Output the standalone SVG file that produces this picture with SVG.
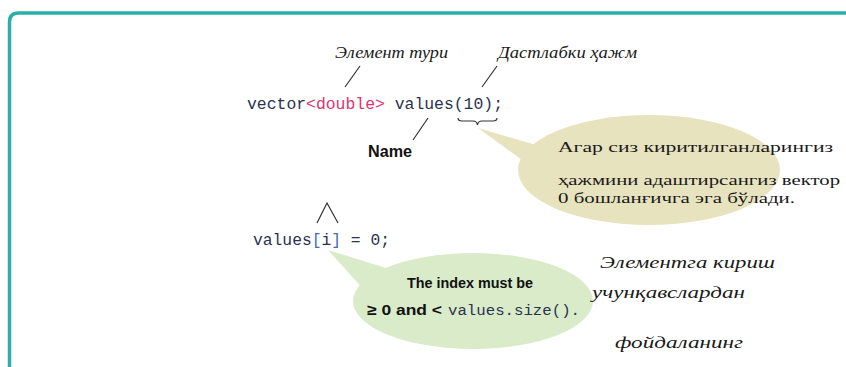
<svg xmlns="http://www.w3.org/2000/svg" width="846" height="367" viewBox="0 0 846 367">
<style>
.code{font-family:"Liberation Mono","DejaVu Sans Mono",monospace;font-size:16px;fill:#2a3250}
.red{fill:#e0336e}
.blue{fill:#3d6db3}
.it{font-family:"Liberation Serif","DejaVu Serif",serif;font-style:italic;font-size:16px;fill:#1a1a1a}
.ser{font-family:"Liberation Serif","DejaVu Serif",serif;font-size:14.5px;fill:#1a1a1a}
.bn{font-family:"Liberation Sans","DejaVu Sans",sans-serif;font-weight:bold;font-size:15px;fill:#111}
.ln{stroke:#333;stroke-width:1.2;fill:none}
</style>
<path d="M9.5,367 V22 Q9.5,13 18.5,13 H846" fill="none" stroke="#2aaea8" stroke-width="3.5"/>
<g id="tan-callout">
<polygon points="478,128 536,145 522,160" fill="#e8e3bf"/>
<ellipse cx="649" cy="170" rx="131" ry="55" fill="#e8e3bf"/>
<text class="ser" x="558" y="152" textLength="275" lengthAdjust="spacingAndGlyphs">Агар сиз киритилганларингиз</text>
<text class="ser" x="558" y="185" textLength="282" lengthAdjust="spacingAndGlyphs">ҳажмини адаштирсангиз вектор</text>
<text class="ser" x="558" y="203" textLength="237" lengthAdjust="spacingAndGlyphs">0 бошланғичга эга бўлади.</text>
</g>
<g id="green-callout">
<polygon points="328,250 386,268 366,292" fill="#d9ebc9"/>
<ellipse cx="473" cy="301" rx="120" ry="48" fill="#d9ebc9"/>
<text class="bn" x="407" y="288" textLength="126" lengthAdjust="spacingAndGlyphs">The index must be</text>
<text x="367" y="315"><tspan class="bn" textLength="75" lengthAdjust="spacingAndGlyphs">≥ 0 and &lt;</tspan></text>
<text class="code" x="448" y="315" style="font-size:15.5px" textLength="132" lengthAdjust="spacingAndGlyphs">values.size().</text>
</g>
<g id="declaration">
<text class="code" x="247" y="109" textLength="256" lengthAdjust="spacingAndGlyphs">vector<tspan class="red">&lt;double&gt;</tspan> values(10);</text>
</g>
<g id="access">
<text class="code" x="253" y="245" textLength="137" lengthAdjust="spacingAndGlyphs">values<tspan class="blue">[</tspan>i<tspan class="blue">]</tspan> = 0;</text>
</g>
<g id="label-type"><text class="it" x="335" y="58" textLength="113" lengthAdjust="spacingAndGlyphs">Элемент тури</text></g>
<g id="label-size"><text class="it" x="498" y="58" textLength="139" lengthAdjust="spacingAndGlyphs">Дастлабки ҳажм</text></g>
<g id="label-name"><text class="bn" x="368" y="157" style="font-size:16px" textLength="44" lengthAdjust="spacingAndGlyphs">Name</text></g>
<g id="label-access">
<text class="it" x="600" y="268" style="font-size:17px" textLength="175" lengthAdjust="spacingAndGlyphs">Элементга кириш</text>
<text class="it" x="592" y="298" style="font-size:17px" textLength="153" lengthAdjust="spacingAndGlyphs">учунқавслардан</text>
<text class="it" x="615" y="348" style="font-size:17px" textLength="128" lengthAdjust="spacingAndGlyphs">фойдаланинг</text>
</g>
<g id="connectors">
<line class="ln" x1="360" y1="66" x2="345" y2="87"/>
<line class="ln" x1="497" y1="66" x2="482" y2="87"/>
<line class="ln" x1="428" y1="118" x2="413" y2="140"/>
<path class="ln" d="M458,118 Q458,121 462,121 L473,121 Q477,121 477.5,125 Q478,121 482,121 L493,121 Q497,121 497,118"/>
<polyline class="ln" points="317,223 327,203 338,223"/>
</g>
</svg>
